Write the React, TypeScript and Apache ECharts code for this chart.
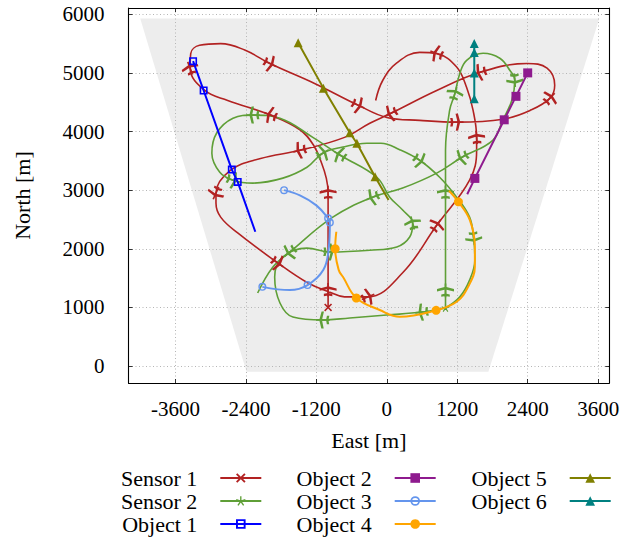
import React, { useEffect, useRef } from "react";
import * as echarts from "echarts";

const FONT = "'Liberation Serif', 'Times New Roman', serif";

// Axis ranges and tick values (metres)
const EAST_RANGE = [-4400, 3790];
const NORTH_RANGE = [-290, 6107];
const EAST_TICKS = [-3600, -2400, -1200, 0, 1200, 2400, 3600];
const NORTH_TICKS = [0, 1000, 2000, 3000, 4000, 5000, 6000];

// Sensor field of view (shaded area)
const coverage = [
  [-4200, 5930],
  [3620, 5930],
  [1730, -100],
  [-2390, -100],
];

// Sensor 1 track, and the indices of the points where the aircraft marker is drawn
const sensor1 = [
  [-1000, 1000], [-1000, 1300], [-1000, 1980], [-1000, 2960], [-1030, 3200],
  [-1110, 3460], [-1250, 3770], [-1480, 4030], [-1980, 4280], [-2710, 4530],
  [-3100, 4700], [-3350, 5080], [-3340, 5330], [-3190, 5470], [-2830, 5500],
  [-2420, 5390], [-1990, 5160], [-1230, 4820], [-490, 4450], [0, 4240],
  [560, 4190], [1190, 4160], [1980, 4210], [2440, 4360], [2780, 4570],
  [2860, 4790], [2730, 5080], [2390, 5160], [1590, 5010], [850, 4700],
  [70, 4310], [-290, 4140], [-720, 3900], [-1480, 3680], [-2150, 3540],
  [-2660, 3340], [-2910, 2950], [-2910, 2780], [-2830, 2540], [-2540, 2270],
  [-1860, 1760], [-1350, 1420], [-970, 1260], [-720, 1180], [-320, 1180],
  [270, 1590], [850, 2400], [1410, 3170], [1530, 3680], [1530, 3900],
  [1470, 4360], [1360, 4750], [1190, 5100], [850, 5330], [560, 5350],
  [170, 5170], [-70, 4870], [-190, 4530],
];
const sensor1Marks = [1, 3, 8, 11, 16, 18, 21, 24, 28, 30, 33, 36, 40, 44, 46, 49, 53];

// Sensor 2: loop that starts and ends at the start point, then the northern leg
const sensor2Loop = [
  [1000, 990], [600, 920], [0, 870], [-630, 820], [-1090, 785],
  [-1600, 835], [-1820, 1075], [-1910, 1520], [-1770, 1860], [-1360, 2010],
  [-970, 1945], [-290, 1975], [170, 2030], [390, 2200], [440, 2440],
  [270, 2660], [50, 2880], [-170, 3220], [-800, 3600], [-1260, 3900],
  [-1820, 4225], [-2280, 4280], [-2620, 4225], [-2900, 3970], [-2980, 3630],
  [-2845, 3305], [-2620, 3170], [-2280, 3120], [-1770, 3205], [-1360, 3390],
  [-1090, 3630], [-750, 3735], [-340, 3800], [-100, 3800], [220, 3690],
  [560, 3510], [900, 3220], [1190, 2880], [1410, 2540], [1480, 2180],
  [1500, 1810], [1410, 1465], [1240, 1175], [1000, 990],
];
const sensor2LoopMarks = [1, 4, 10, 14, 18, 21, 26, 30, 35, 39];

const sensor2Leg = [
  [1000, 990], [1000, 1290], [1000, 2960], [1000, 3680], [1070, 4360],
  [1160, 4650], [1245, 4995], [1360, 5215], [1640, 5335], [1925, 5250],
  [2095, 5045], [2180, 4875], [2130, 4535], [1975, 4195], [1805, 3850],
  [1280, 3560], [850, 3290], [270, 3035], [-240, 2880], [-920, 2540],
  [-1650, 1945], [-1940, 1690], [-2200, 1245],
];
const sensor2LegMarks = [1, 2, 5, 11, 15, 18, 20];

// Objects: track points and the indices that carry a marker
const object1 = [[-3300, 5200], [-3120, 4700], [-2640, 3350], [-2540, 3140], [-2240, 2290]];
const object1Marks = [0, 1, 2, 3];

const object2 = [[2400, 5000], [2200, 4600], [2000, 4200], [1500, 3200], [1370, 2930]];
const object2Marks = [0, 1, 2, 3];

const object3 = [
  [-1750, 3000], [-1480, 2910], [-1200, 2740], [-1000, 2520], [-970, 2450],
  [-990, 2000], [-1080, 1640], [-1350, 1380], [-1650, 1295], [-2120, 1350],
];
const object3Marks = [0, 3, 4, 7, 9];

const object4 = [
  [-860, 2290], [-880, 2000], [-820, 1640], [-745, 1517], [-520, 1160],
  [-120, 955], [220, 840], [840, 950], [1190, 1096], [1385, 1352],
  [1500, 1693], [1500, 2033], [1415, 2489], [1220, 2800], [1060, 2990],
];
const object4Marks = [1, 4, 7, 13];

const object5 = [[-1510, 5515], [-1080, 4740], [-630, 3980], [-510, 3800], [-200, 3230], [30, 2830]];
const object5Marks = [0, 1, 2, 3, 4];

const object6 = [[1490, 5500], [1490, 5350], [1490, 5000], [1490, 4560]];
const object6Marks = [0, 1, 2, 3];

// Marker shapes
const PLANE =
  "path://M9 0L11 0L11 16L9 16Z M0 6.4L10 3.8L20 6.4L20 9.2L10 7L0 9.2Z M5 12.8L10 11.8L15 12.8L15 15.6L10 14.6L5 15.6Z";
const CROSS =
  "path://M0 1.4L1.4 0L5 3.6L8.6 0L10 1.4L6.4 5L10 8.6L8.6 10L5 6.4L1.4 10L0 8.6L3.6 5Z";
const OPEN_SQUARE = "path://M0 0H10V10H0Z M2 2V8H8V2Z";
const OPEN_CIRCLE =
  "path://M0 5A5 5 0 1 1 10 5A5 5 0 1 1 0 5Z M1.8 5A3.2 3.2 0 1 0 8.2 5A3.2 3.2 0 1 0 1.8 5Z";

function asteriskPath(): string {
  const parts: string[] = [];
  const r = 5;
  const w = 0.7;
  for (let k = 0; k < 5; k++) {
    const a = ((90 + 72 * k) * Math.PI) / 180;
    const dx = Math.cos(a);
    const dy = -Math.sin(a);
    const nx = -dy * w;
    const ny = dx * w;
    const pts = [
      [5 + nx, 5 + ny],
      [5 + dx * r + nx, 5 + dy * r + ny],
      [5 + dx * r - nx, 5 + dy * r - ny],
      [5 - nx, 5 - ny],
    ];
    parts.push(
      "M" + pts.map((p) => p[0].toFixed(2) + " " + p[1].toFixed(2)).join("L") + "Z"
    );
  }
  return "path://" + parts.join(" ");
}
const STAR = asteriskPath();

const COLORS = {
  sensor1: "#b22222",
  sensor2: "#5f9f37",
  object1: "#0000ff",
  object2: "#8e1a8e",
  object3: "#6495ed",
  object4: "#ffa500",
  object5: "#808000",
  object6: "#008080",
};

// Track points with aircraft markers oriented along the direction of travel
function trackData(path: number[][], marks: number[], startSymbol?: string) {
  return path.map((p, i) => {
    if (i === 0 && startSymbol) {
      return { value: p, symbol: startSymbol, symbolSize: 8 };
    }
    if (!marks.includes(i)) return { value: p, symbol: "none" };
    const a = path[Math.max(i - 1, 0)];
    const b = path[Math.min(i + 1, path.length - 1)];
    const ang = (Math.atan2(b[1] - a[1], b[0] - a[0]) * 180) / Math.PI;
    return { value: p, symbol: PLANE, symbolSize: [17, 13.6], symbolRotate: ang - 90 };
  });
}

function objectData(path: number[][], marks: number[]) {
  return path.map((p, i) => (marks.includes(i) ? { value: p } : { value: p, symbol: "none" }));
}

function sensorSeries(name: string, color: string, data: any[], symbol: string) {
  return {
    name,
    type: "line",
    smooth: 0.4,
    symbol,
    color,
    lineStyle: { color, width: 1.6 },
    itemStyle: { color },
    data,
    z: 3,
  };
}

function objectSeries(
  name: string,
  color: string,
  data: any[],
  symbol: string,
  symbolSize: number,
  smooth: number | boolean
) {
  return {
    name,
    type: "line",
    smooth,
    symbol,
    symbolSize,
    color,
    lineStyle: { color, width: 2 },
    itemStyle: { color },
    data,
    z: 4,
  };
}

const plainNumber = (v: number) => String(v);

export default function App() {
  const ref = useRef<HTMLDivElement>(null);

  useEffect(() => {
    if (!ref.current) return;
    const chart = echarts.init(ref.current, undefined, { renderer: "svg" });

    const tickStyle = { show: true, inside: true, length: 4, lineStyle: { color: "#000", width: 0.8 } };
    const gridLine = { show: true, lineStyle: { color: "#b5b5b5", width: 1, type: [1, 2.5] } };
    const frameLine = { show: true, onZero: false, lineStyle: { color: "#000", width: 1.1 } };

    const legendBase = {
      orient: "vertical",
      align: "right",
      top: 466.5,
      height: 70,
      padding: 0,
      itemGap: 0,
      itemWidth: 41,
      itemHeight: 12,
      textStyle: {
        fontFamily: FONT,
        fontSize: 22,
        color: "#000",
        lineHeight: 23,
        padding: [0, 18, 0, 0],
      },
    };

    chart.setOption({
      animation: false,
      backgroundColor: "#fff",
      grid: { left: 128.5, top: 8, width: 480.8, height: 375, containLabel: false },
      xAxis: [
        {
          type: "value",
          min: EAST_RANGE[0],
          max: EAST_RANGE[1],
          name: "East [m]",
          nameLocation: "middle",
          nameGap: 46,
          nameTextStyle: { fontFamily: FONT, fontSize: 22, color: "#000" },
          axisLine: frameLine,
          axisTick: { ...tickStyle, customValues: EAST_TICKS },
          axisLabel: {
            customValues: EAST_TICKS,
            formatter: plainNumber,
            fontFamily: FONT,
            fontSize: 21,
            color: "#000",
            margin: 15,
          },
          splitLine: gridLine,
        },
        {
          type: "value",
          position: "top",
          min: EAST_RANGE[0],
          max: EAST_RANGE[1],
          axisLine: frameLine,
          axisTick: { ...tickStyle, customValues: EAST_TICKS },
          axisLabel: { show: false },
          splitLine: { show: false },
        },
      ],
      yAxis: [
        {
          type: "value",
          min: NORTH_RANGE[0],
          max: NORTH_RANGE[1],
          name: "North [m]",
          nameLocation: "middle",
          nameGap: 95,
          nameRotate: 90,
          nameTextStyle: { fontFamily: FONT, fontSize: 22, color: "#000" },
          axisLine: frameLine,
          axisTick: { ...tickStyle, customValues: NORTH_TICKS },
          axisLabel: {
            customValues: NORTH_TICKS,
            formatter: plainNumber,
            fontFamily: FONT,
            fontSize: 21,
            color: "#000",
            margin: 24,
          },
          splitLine: gridLine,
        },
        {
          type: "value",
          position: "right",
          min: NORTH_RANGE[0],
          max: NORTH_RANGE[1],
          axisLine: frameLine,
          axisTick: { ...tickStyle, customValues: NORTH_TICKS },
          axisLabel: { show: false },
          splitLine: { show: false },
        },
      ],
      legend: [
        { ...legendBase, right: 625 - 262.3, data: ["Sensor 1", "Sensor 2", "Object 1"] },
        { ...legendBase, right: 625 - 436.7, data: ["Object 2", "Object 3", "Object 4"] },
        { ...legendBase, right: 625 - 611.7, data: ["Object 5", "Object 6"] },
      ],
      series: [
        {
          type: "custom",
          name: "coverage",
          silent: true,
          z: -1,
          data: [[0, 0]],
          renderItem: (_params: any, api: any) => ({
            type: "polygon",
            shape: { points: coverage.map((p) => api.coord(p)) },
            style: { fill: "#ededed" },
          }),
        },
        sensorSeries("Sensor 1", COLORS.sensor1, trackData(sensor1, sensor1Marks, CROSS), CROSS),
        sensorSeries("Sensor 2", COLORS.sensor2, trackData(sensor2Loop, sensor2LoopMarks, STAR), STAR),
        sensorSeries("Sensor 2", COLORS.sensor2, trackData(sensor2Leg, sensor2LegMarks), STAR),
        objectSeries("Object 1", COLORS.object1, objectData(object1, object1Marks), OPEN_SQUARE, 8, false),
        objectSeries("Object 2", COLORS.object2, objectData(object2, object2Marks), "rect", 9, false),
        objectSeries("Object 3", COLORS.object3, objectData(object3, object3Marks), OPEN_CIRCLE, 8, 0.4),
        objectSeries("Object 4", COLORS.object4, objectData(object4, object4Marks), "circle", 9, 0.4),
        objectSeries("Object 5", COLORS.object5, objectData(object5, object5Marks), "triangle", 9, false),
        objectSeries("Object 6", COLORS.object6, objectData(object6, object6Marks), "triangle", 9, false),
      ],
    });

    return () => chart.dispose();
  }, []);

  return (
    <div
      ref={ref}
      style={{ position: "absolute", left: 0, top: 0, width: 625, height: 537, background: "#fff" }}
    />
  );
}
